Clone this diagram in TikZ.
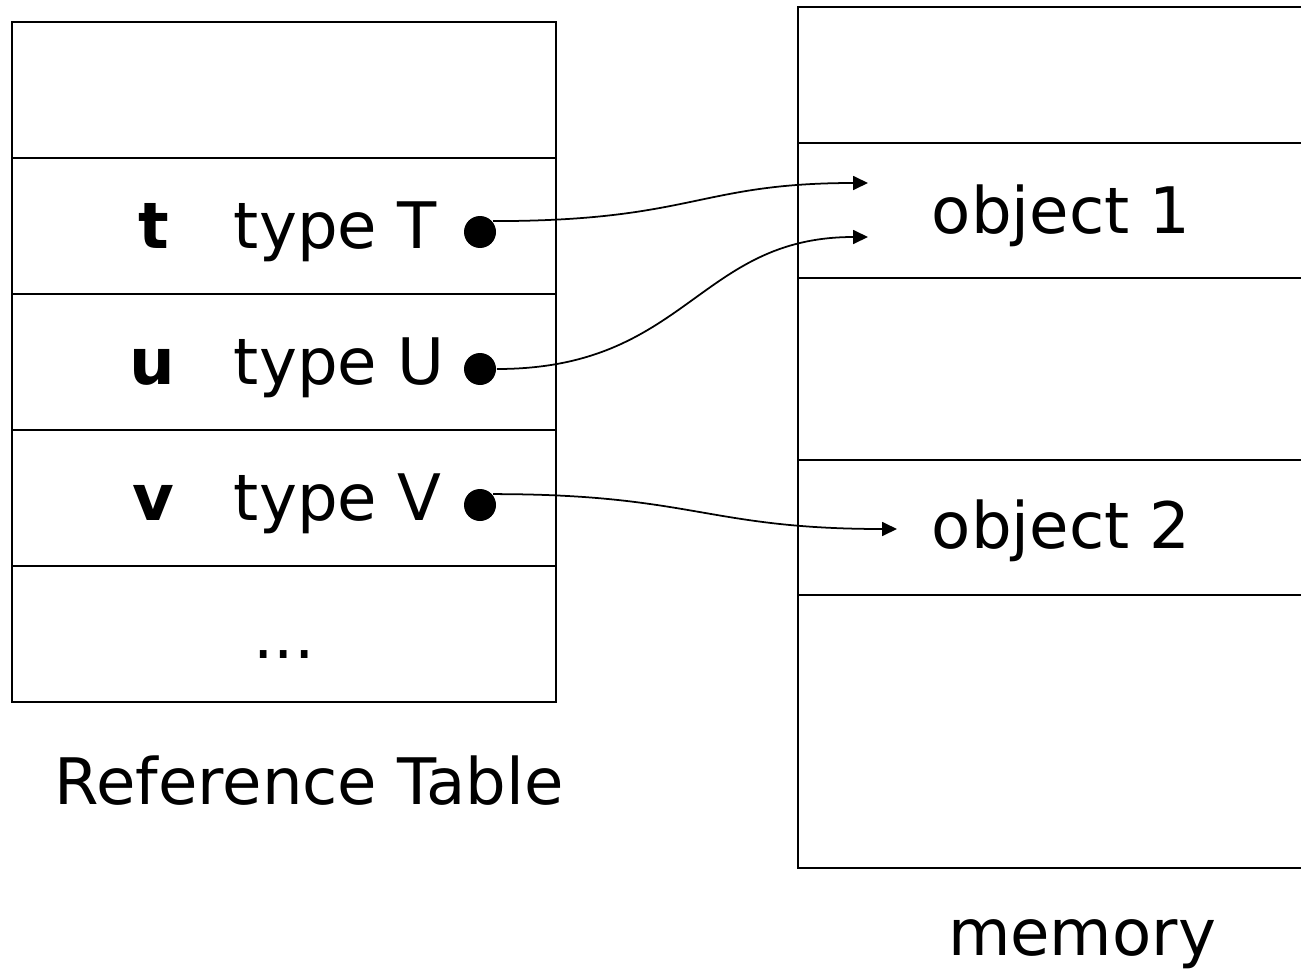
\documentclass[tikz,border=0pt]{standalone}
\usepackage{fontspec}
\setmainfont{DejaVu Sans}
\usetikzlibrary{arrows.meta}

\tikzset{
  lbl/.style={inner sep=0pt, font=\fontsize{36.5}{44}\selectfont},
  var/.style={inner sep=0pt, anchor=base, font=\fontsize{36.5}{44}\selectfont\bfseries},
  pin/.style={circle, fill=black, inner sep=0pt, minimum size=0.64cm},
  ptr/.style={line width=1pt, -{Triangle[length=0.3cm,width=0.28cm]}},
}

\begin{document}
\begin{tikzpicture}[x=0.02cm,y=-0.02cm,line width=1.1pt]
 \useasboundingbox (0,0) rectangle (1301,970);
 % reference table
 \draw (12,22) rectangle (556,702);
 \foreach \y in {158,294,430,566} \draw (12,\y) -- (556,\y);
 % memory
 \draw (1301,7) -- (798,7) -- (798,868) -- (1301,868);
 \foreach \y in {143,278,460,595} \draw (798,\y) -- (1301,\y);

 \node[var] (t) at (154,248) {t};
 \node[lbl, anchor=base west] (typeT) at (233,248) {type T};
 \node[pin] (tdot) at (480,232) {};
 \node[var] (u) at (152,384) {u};
 \node[lbl, anchor=base west] (typeU) at (233,384) {type U};
 \node[pin] (udot) at (480,369) {};
 \node[var] (v) at (153,520) {v};
 \node[lbl, anchor=base west] (typeV) at (233,520) {type V};
 \node[pin] (vdot) at (480,505) {};
 \node[lbl, anchor=base] (more) at (284,658) {...};
 \node[lbl, anchor=base] (reftab) at (309,804) {Reference Table};

 \node[lbl, anchor=base west] (obj1) at (931,233) {object 1};
 \node[lbl, anchor=base west] (obj2) at (931,548) {object 2};
 \node[lbl, anchor=base] (mem) at (1082,955) {memory};

 \coordinate (in1) at (868,183);
 \coordinate (in1b) at (868,237);
 \coordinate (in2) at (897,529);

 \draw[ptr] (tdot.40) .. controls +(200,0) and +(-170,0) .. (in1);
 \draw[ptr] (udot.east) .. controls +(190,0) and +(-170,0) .. (in1b);
 \draw[ptr] (vdot.40) .. controls +(200,0) and +(-190,0) .. (in2);
\end{tikzpicture}
\end{document}
